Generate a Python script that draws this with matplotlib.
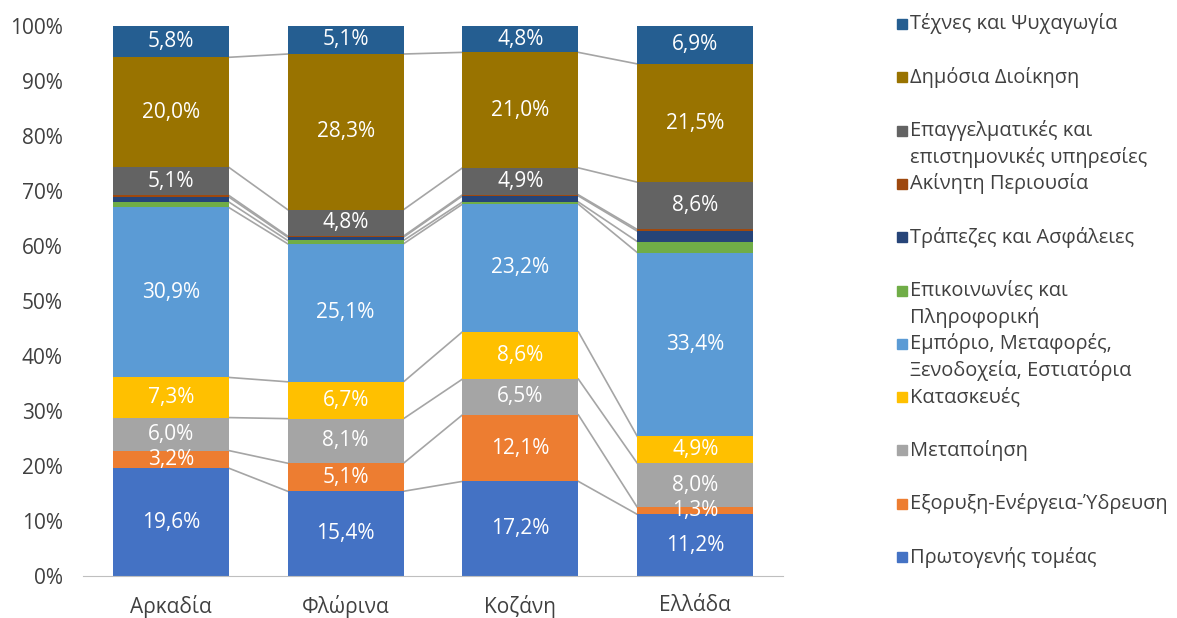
import numpy as np
import matplotlib.pyplot as plt
from matplotlib.patches import Rectangle

plt.rcParams['font.family'] = ['Open Sans', 'DejaVu Sans']

regions = ['Αρκαδία', 'Φλώρινα', 'Κοζάνη', 'Ελλάδα']

sectors = ['Πρωτογενής τομέας', 'Εξορυξη-Ενέργεια-Ύδρευση', 'Μεταποίηση', 'Κατασκευές',
           'Εμπόριο, Μεταφορές,\nΞενοδοχεία, Εστιατόρια', 'Επικοινωνίες και\nΠληροφορική',
           'Τράπεζες και Ασφάλειες', 'Ακίνητη Περιουσία',
           'Επαγγελματικές και\nεπιστημονικές υπηρεσίες', 'Δημόσια Διοίκηση',
           'Τέχνες και Ψυχαγωγία']

primary = [19.6, 15.4, 17.2, 11.2]
mining = [3.2, 5.1, 12.1, 1.3]
manufacturing = [6.0, 8.1, 6.5, 8.0]
construction = [7.3, 6.7, 8.6, 4.9]
trade = [30.9, 25.1, 23.2, 33.4]
telecom = [1.0, 0.6, 0.4, 2.0]
banks = [0.9, 0.6, 1.1, 1.9]
real_estate = [0.3, 0.2, 0.2, 0.3]
professional = [5.1, 4.8, 4.9, 8.6]
public = [20.0, 28.3, 21.0, 21.5]
arts = [5.8, 5.1, 4.8, 6.9]

series = [primary, mining, manufacturing, construction, trade, telecom,
          banks, real_estate, professional, public, arts]
colors = ['#4472C4', '#ED7D31', '#A5A5A5', '#FFC000', '#5B9BD5', '#70AD47',
          '#264478', '#9E480E', '#636363', '#997300', '#255E91']
show_label = [True, True, True, True, True, False, False, False, True, True, True]

fs = 15
legend_fs = 14.4

fig = plt.figure(figsize=(11.77, 6.18), dpi=100)
ax = fig.add_axes([0.0709, 0.068, 0.594, 0.890])

x = np.arange(len(regions))
width = 0.663
bottom = np.zeros(len(regions))
tops = []
for vals, col, lab in zip(series, colors, show_label):
    vals = np.array(vals)
    ax.bar(x, vals, width, bottom=bottom, color=col, zorder=2)
    if lab:
        for xi, b, v in zip(x, bottom, vals):
            ax.text(xi, b + v / 2, f'{v:.1f}%'.replace('.', ','), ha='center', va='center',
                    color='white', fontsize=fs, zorder=3)
    bottom = bottom + vals
    tops.append(bottom.copy())

# series lines between bars
for t in tops[:-1]:
    for i in range(len(regions) - 1):
        ax.plot([x[i] + width / 2, x[i + 1] - width / 2], [t[i], t[i + 1]],
                color='#A5A5A5', lw=1.2, zorder=1)

ax.set_xlim(-0.5, len(regions) - 0.5)
ax.set_ylim(0, 100)
ax.set_yticks(np.arange(0, 101, 10))
ax.set_yticklabels([f'{v}%' for v in range(0, 101, 10)], fontsize=fs, color='#404040')
ax.set_xticks(x)
ax.set_xticklabels(regions, fontsize=fs, color='#404040')
ax.tick_params(axis='y', length=0, pad=15)
ax.tick_params(axis='x', length=0, pad=14)
for s in ['top', 'right', 'left']:
    ax.spines[s].set_visible(False)
ax.spines['bottom'].set_color('#BFBFBF')

# legend on the right, top item = last series
W, H = 1177, 618
y0, step = 24, 53.3
for k, idx in enumerate(range(len(series) - 1, -1, -1)):
    yc = y0 + k * step
    fig.patches.append(Rectangle((897 / W, 1 - (yc + 5) / H), 10 / W, 10 / H,
                                 transform=fig.transFigure, color=colors[idx]))
    lines = sectors[idx].split('\n')
    for j, ln in enumerate(lines):
        fig.text(910 / W, 1 - (yc + j * 27) / H, ln, ha='left', va='center',
                 fontsize=legend_fs, color='#404040')

fig.savefig('out.png')
